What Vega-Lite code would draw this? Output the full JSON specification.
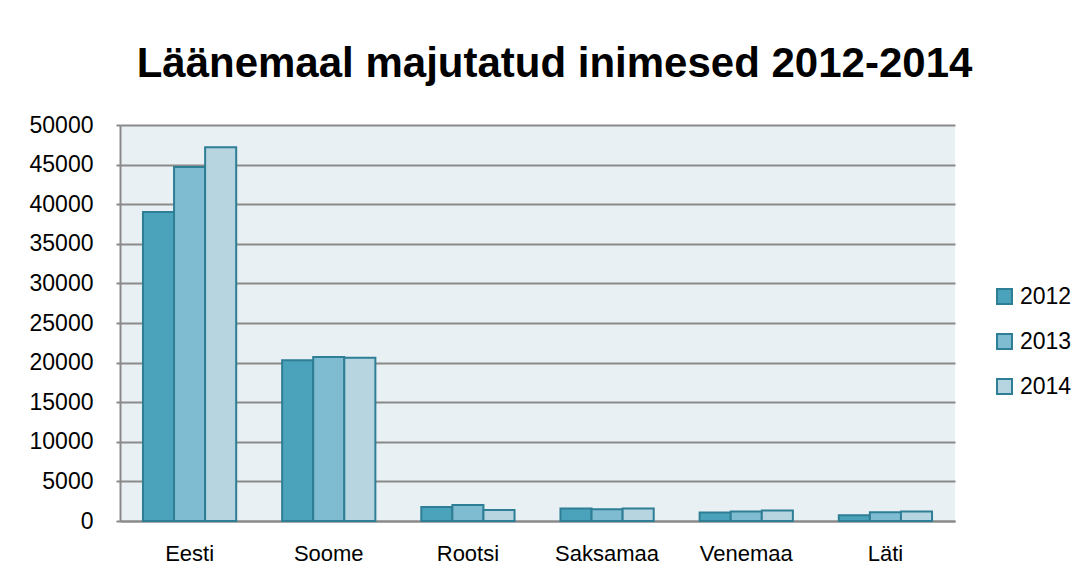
{
  "$schema": "https://vega.github.io/schema/vega-lite/v6.json",
  "width": 835,
  "height": 396,
  "autosize": {"type": "none"},
  "padding": {"left": 120, "top": 125, "right": 132, "bottom": 59},
  "background": "white",
  "config": {
    "font": "Liberation Sans",
    "view": {"fill": "#E9F0F4", "stroke": null}
  },
  "title": {
    "text": "Läänemaal majutatud inimesed 2012-2014",
    "font": "Liberation Sans",
    "fontSize": 42,
    "fontWeight": "bold",
    "color": "#000000",
    "anchor": "middle",
    "dx": 17,
    "offset": 28
  },
  "data": {
    "values": [
      {"country": "Eesti", "year": "2012", "value": 39000},
      {"country": "Eesti", "year": "2013", "value": 44700},
      {"country": "Eesti", "year": "2014", "value": 47200},
      {"country": "Soome", "year": "2012", "value": 20300},
      {"country": "Soome", "year": "2013", "value": 20700},
      {"country": "Soome", "year": "2014", "value": 20600},
      {"country": "Rootsi", "year": "2012", "value": 1770},
      {"country": "Rootsi", "year": "2013", "value": 2030},
      {"country": "Rootsi", "year": "2014", "value": 1390},
      {"country": "Saksamaa", "year": "2012", "value": 1570},
      {"country": "Saksamaa", "year": "2013", "value": 1480},
      {"country": "Saksamaa", "year": "2014", "value": 1570},
      {"country": "Venemaa", "year": "2012", "value": 1060},
      {"country": "Venemaa", "year": "2013", "value": 1190},
      {"country": "Venemaa", "year": "2014", "value": 1320},
      {"country": "Läti", "year": "2012", "value": 720},
      {"country": "Läti", "year": "2013", "value": 1100},
      {"country": "Läti", "year": "2014", "value": 1190}
    ]
  },
  "mark": {"type": "bar", "stroke": "#2E7E95", "strokeWidth": 2},
  "encoding": {
    "x": {
      "field": "country",
      "type": "nominal",
      "sort": ["Eesti", "Soome", "Rootsi", "Saksamaa", "Venemaa", "Läti"],
      "scale": {"paddingInner": 0.33, "paddingOuter": 0.165},
      "axis": {
        "title": null,
        "labelAngle": 0,
        "labelFontSize": 22,
        "labelColor": "#000000",
        "labelPadding": 22,
        "ticks": false,
        "domainColor": "#8a8a8a",
        "domainWidth": 2
      }
    },
    "xOffset": {"field": "year", "type": "nominal", "scale": {"paddingInner": 0, "paddingOuter": 0}},
    "y": {
      "field": "value",
      "type": "quantitative",
      "scale": {"domain": [0, 50000], "nice": false},
      "axis": {
        "title": null,
        "values": [0, 5000, 10000, 15000, 20000, 25000, 30000, 35000, 40000, 45000, 50000],
        "format": "d",
        "labelFontSize": 23,
        "labelColor": "#000000",
        "labelPadding": 23,
        "tickSize": 4,
        "tickColor": "#8a8a8a",
        "tickWidth": 2,
        "domainColor": "#8a8a8a",
        "domainWidth": 2,
        "gridColor": "#8a8a8a",
        "gridWidth": 2
      }
    },
    "fill": {
      "field": "year",
      "type": "nominal",
      "scale": {"domain": ["2012", "2013", "2014"], "range": ["#4AA3BA", "#80BCD1", "#B7D5E0"]},
      "legend": {
        "title": null,
        "orient": "none",
        "legendX": 873,
        "legendY": 160,
        "symbolType": "square",
        "symbolSize": 225,
        "symbolStrokeColor": "#2E7E95",
        "symbolStrokeWidth": 2,
        "labelFontSize": 23,
        "labelColor": "#000000",
        "labelOffset": 4,
        "rowPadding": 21
      }
    }
  }
}
